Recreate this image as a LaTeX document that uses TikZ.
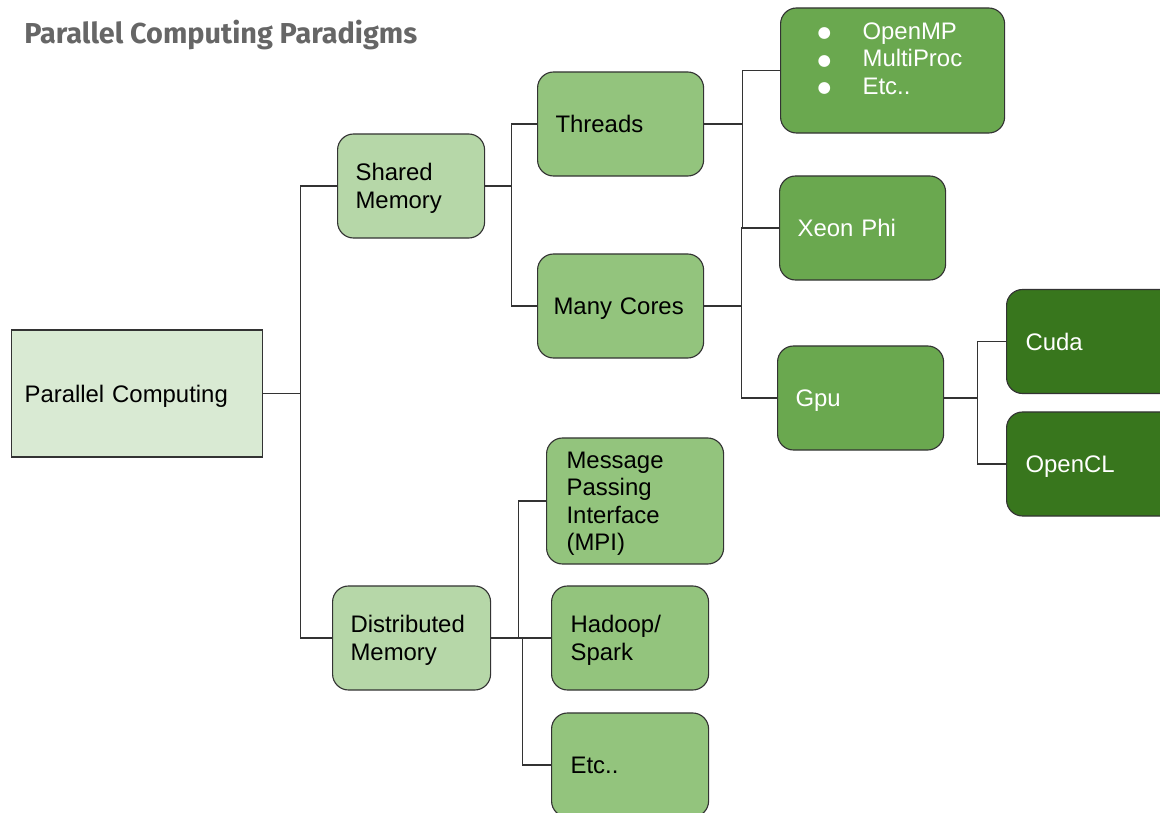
\documentclass[tikz,border=0pt]{standalone}
\usepackage{fontspec}
\setmainfont{Liberation Sans}
\newfontfamily\titlefont{Fira Sans}
\newfontfamily\dotfont{DejaVu Sans}
\definecolor{pclight}{HTML}{D9EAD3}
\definecolor{pcmid}{HTML}{B6D7A8}
\definecolor{pcleaf}{HTML}{93C47D}
\definecolor{pcdark}{HTML}{6AA84F}
\definecolor{pcdeep}{HTML}{38761D}
\definecolor{pcedge}{HTML}{333333}
\definecolor{pctitle}{HTML}{666666}
\newcommand{\pcdot}{\makebox[9.75mm][l]{\hspace*{-1.5mm}\raisebox{1pt}{\dotfont\fontsize{11}{0}\selectfont ●}}}
\tikzset{
  box/.style={draw=pcedge,line width=0.8pt,anchor=west,align=left,
    minimum height=26mm,inner xsep=4.5mm,text=black,
    text height=12.2pt,text depth=0pt,
    font=\fontsize{17}{19.5}\selectfont},
  roundbox/.style={box,rounded corners=4mm},
  twolines/.style={text depth=19.5pt},
  fourlines/.style={text depth=58.5pt},
  wire/.style={draw=pcedge,line width=0.8pt}
}
\begin{document}
\begin{tikzpicture}[x=0.025cm,y=-0.025cm]
  \useasboundingbox (0,0) rectangle (1160,813);
  \clip (0,0) rectangle (1160,813);

  \node[anchor=west,inner sep=0pt,text=pctitle,font=\titlefont\bfseries\fontsize{20.5}{24}\selectfont] (title) at (24,35) {Parallel Computing Paradigms};

  \node[box,fill=pclight,minimum height=31.75mm,inner xsep=3.25mm,text width=56.25mm] (pc) at (11,393.5) {Parallel Computing};

  \node[roundbox,twolines,fill=pcmid,text width=27.75mm] (shared) at (337,186) {Shared\\Memory};
  \node[roundbox,twolines,fill=pcmid,text width=30.5mm] (dist) at (332,638) {Distributed\\Memory};

  \node[roundbox,fill=pcleaf,text width=32.5mm] (threads) at (537,124) {Threads};
  \node[roundbox,fill=pcleaf,inner xsep=4mm,text width=33.5mm] (many) at (537,306) {Many Cores};

  \node[roundbox,fourlines,fill=pcleaf,minimum height=31.5mm,inner xsep=5mm,text width=34.25mm] (mpi) at (546,501) {Message\\Passing\\Interface\\(MPI)};
  \node[roundbox,twolines,fill=pcleaf,inner xsep=4.75mm,text width=29.75mm] (hadoop) at (551,638) {Hadoop/\\Spark};
  \node[roundbox,fill=pcleaf,inner xsep=4.75mm,text width=29.75mm] (etc) at (551,765) {Etc..};

  \node[roundbox,fill=pcdark,text=white,minimum height=31.25mm,inner xsep=10.75mm,text width=34.5mm,text depth=56.7pt] (omp) at (780,70.5)
    {\pcdot OpenMP\\\pcdot MultiProc\\\pcdot Etc..};
  \node[roundbox,fill=pcdark,text=white,text width=32.5mm] (xeon) at (779,228) {Xeon Phi};
  \node[roundbox,fill=pcdark,text=white,text width=32.5mm] (gpu) at (777,398) {Gpu};

  \node[roundbox,fill=pcdeep,text=white,inner xsep=4.75mm,text width=33mm] (cuda) at (1006,341.5) {Cuda};
  \node[roundbox,fill=pcdeep,text=white,inner xsep=4.75mm,text width=33mm] (opencl) at (1006,464) {OpenCL};

  % elbow connectors
  \draw[wire] (pc.east) -- ++(37,0) |- (shared.west);
  \draw[wire] (pc.east) -- ++(37,0) |- (dist.west);
  \draw[wire] (shared.east) -- ++(26,0) |- (threads.west);
  \draw[wire] (shared.east) -- ++(26,0) |- (many.west);
  \draw[wire] (threads.east) -- ++(38,0) |- (omp.west);
  \draw[wire] (threads.east) -- ++(38,0) |- (xeon.west);
  \draw[wire] (many.east) -- ++(37,0) |- (xeon.west);
  \draw[wire] (many.east) -- ++(37,0) |- (gpu.west);
  \draw[wire] (gpu.east) -- ++(33,0) |- (cuda.west);
  \draw[wire] (gpu.east) -- ++(33,0) |- (opencl.west);
  \draw[wire] (dist.east) -- ++(27,0) |- (mpi.west);
  \draw[wire] (dist.east) -- (hadoop.west);
  \draw[wire] (dist.east) -- ++(31,0) |- (etc.west);
\end{tikzpicture}
\end{document}
